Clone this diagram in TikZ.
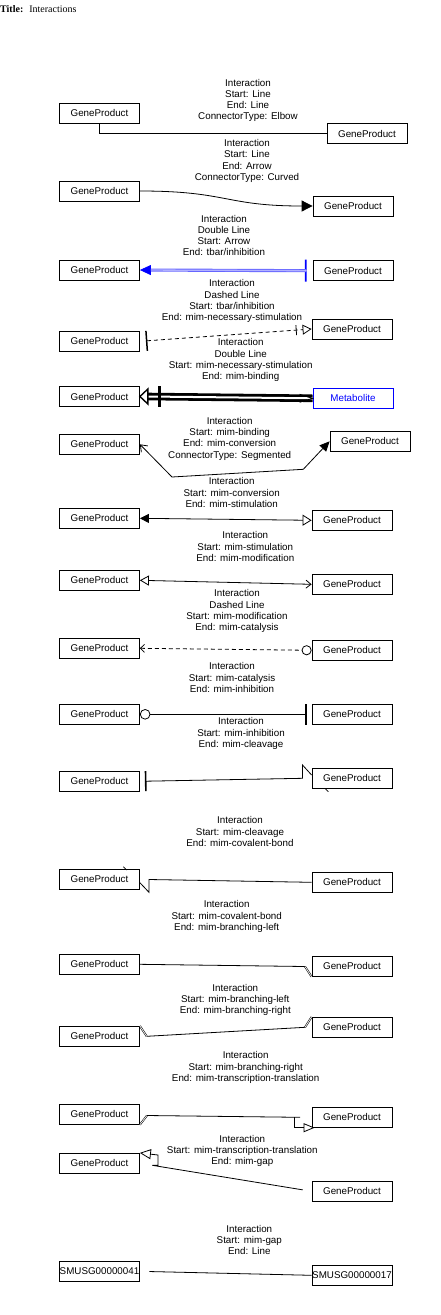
\documentclass[tikz,border=0pt]{standalone}
\usepackage{fontspec}
\setmainfont{Liberation Sans}
\newfontfamily\seriffont{Liberation Serif}
\usetikzlibrary{arrows.meta}

\tikzset{
  gene/.style={draw, line width=0.8pt, minimum width=80pt, minimum height=20pt, inner sep=0pt, font=\fontsize{9.8}{11.3}\selectfont},
  lbl/.style={align=center, inner sep=0pt, font=\fontsize{9.8}{11.3}\selectfont},
  conn/.style={line width=0.8pt},
  dashline/.style={dash pattern=on 4pt off 3pt},
  branch/.style={line width=0.55pt, double, double distance=0.7pt},
  bluedbl/.style={draw=blue!60, double=blue!30, line width=0.9pt, double distance=1.3pt},
  blkdbl/.style={line width=2.8pt, double=white, double distance=2pt}
}

\begin{document}
\begin{tikzpicture}[x=1pt,y=-1pt]
        \useasboundingbox (0,0) rectangle (440,1315);
        \node[anchor=west,inner sep=0pt,font=\seriffont\fontsize{10}{12}\selectfont] (title) at (0,9) {\textbf{Title:}\hspace{6pt}Interactions};

        % boxes
        \node[gene] (l1) at (99.5,113) {GeneProduct};
        \node[gene] (r1) at (367,133.7) {GeneProduct};
        \node[gene] (l2) at (99.5,191) {GeneProduct};
        \node[gene] (r2) at (353,206) {GeneProduct};
        \node[gene] (l3) at (99.5,270) {GeneProduct};
        \node[gene] (r3) at (353,270.7) {GeneProduct};
        \node[gene] (l4) at (99.5,341.3) {GeneProduct};
        \node[gene] (r4) at (352,329) {GeneProduct};
        \node[gene] (l5) at (99.5,396.5) {GeneProduct};
        \node[gene,draw=blue,text=blue] (m5) at (353,398.3) {Metabolite};
        \node[gene] (l6) at (99.5,444.3) {GeneProduct};
        \node[gene] (r6) at (370,441.3) {GeneProduct};
        \node[gene] (l7) at (99.5,518.3) {GeneProduct};
        \node[gene] (r7) at (352,520.3) {GeneProduct};
        \node[gene] (l8) at (99.5,580.3) {GeneProduct};
        \node[gene] (r8) at (352,584.3) {GeneProduct};
        \node[gene] (l9) at (99.5,648.3) {GeneProduct};
        \node[gene] (r9) at (352,650.3) {GeneProduct};
        \node[gene] (l10) at (99.5,714.3) {GeneProduct};
        \node[gene] (r10) at (352,714.3) {GeneProduct};
        \node[gene] (l11) at (99.5,781.3) {GeneProduct};
        \node[gene] (r11) at (352,778.3) {GeneProduct};
        \node[gene] (l12) at (99.5,879.3) {GeneProduct};
        \node[gene] (r12) at (352,882.3) {GeneProduct};
        \node[gene] (l13) at (99.5,964.3) {GeneProduct};
        \node[gene] (r13) at (352,966.3) {GeneProduct};
        \node[gene] (l14) at (99.5,1036.3) {GeneProduct};
        \node[gene] (r14) at (352,1027.3) {GeneProduct};
        \node[gene] (l15) at (99.5,1114.3) {GeneProduct};
        \node[gene] (r15) at (352,1117.3) {GeneProduct};
        \node[gene] (l16) at (99.5,1163.3) {GeneProduct};
        \node[gene] (r16) at (352,1191.3) {GeneProduct};
        \node[gene] (l17) at (99.5,1271.3) {SMUSG00000041};
        \node[gene] (r17) at (352,1275.3) {SMUSG00000017};

        % labels
        \node[lbl] (t1) at (248,100.5) {Interaction\\Start: Line\\End: Line\\ConnectorType: Elbow};
        \node[lbl] (t2) at (247,161) {Interaction\\Start: Line\\End: Arrow\\ConnectorType: Curved};
        \node[lbl] (t3) at (224,235.5) {Interaction\\Double Line\\Start: Arrow\\End: tbar/inhibition};
        \node[lbl] (t4) at (232,301.3) {Interaction\\Dashed Line\\Start: tbar/inhibition\\End: mim-necessary-stimulation};
        \node[lbl] (t5) at (240.7,360.3) {Interaction\\Double Line\\Start: mim-necessary-stimulation\\End: mim-binding};
        \node[lbl] (t6) at (229.7,438.7) {Interaction\\Start: mim-binding\\End: mim-conversion\\ConnectorType: Segmented};
        \node[lbl] (t7) at (231.7,492.7) {Interaction\\Start: mim-conversion\\End: mim-stimulation};
        \node[lbl] (t8) at (245.3,546.7) {Interaction\\Start: mim-stimulation\\End: mim-modification};
        \node[lbl] (t9) at (237,611.3) {Interaction\\Dashed Line\\Start: mim-modification\\End: mim-catalysis};
        \node[lbl] (t10) at (232,677.7) {Interaction\\Start: mim-catalysis\\End: mim-inhibition};
        \node[lbl] (t11) at (241,733.7) {Interaction\\Start: mim-inhibition\\End: mim-cleavage};
        \node[lbl] (t12) at (240,831.7) {Interaction\\Start: mim-cleavage\\End: mim-covalent-bond};
        \node[lbl] (t13) at (226.7,916.7) {Interaction\\Start: mim-covalent-bond\\End: mim-branching-left};
        \node[lbl] (t14) at (235.3,1000) {Interaction\\Start: mim-branching-left\\End: mim-branching-right};
        \node[lbl] (t15) at (245.7,1067.7) {Interaction\\Start: mim-branching-right\\End: mim-transcription-translation};
        \node[lbl] (t16) at (242.3,1150.8) {Interaction\\Start: mim-transcription-translation\\End: mim-gap};
        \node[lbl] (t17) at (249.3,1239.8) {Interaction\\Start: mim-gap\\End: Line};

        % connectors
        \draw[conn] (l1.south) |- (r1.west);
        \draw[conn,-{Triangle[length=11pt,width=11pt]}] (l2.east) to[out=0,in=180,looseness=1.3] (r2.west);
        \draw[blue,line width=0.8pt,{Triangle[length=11pt,width=10pt]}-{Bar[width=22pt,line width=1.8pt]},shorten >=6pt] (l3.east) -- (r3.west);
        \draw[bluedbl,shorten <=11pt,shorten >=6pt] (l3.east) -- (r3.west);
        \draw[conn,dashline,{Bar[width=20pt,line width=1.5pt]}-{Bar[width=10pt,sep=6pt] Triangle[open,length=9pt,width=10pt]},shorten <=6pt] (l4.east) -- (r4.west);
        \draw[blkdbl] ([xshift=8pt]l5.east) -- (m5.west);
        \draw[line width=1.4pt,fill=white] (l5.east) -- ([shift={(8pt,7.5pt)}]l5.east) -- ([shift={(8pt,-7.5pt)}]l5.east) -- cycle;
        \draw[line width=3pt] ([xshift=19.5pt]l5.north east) -- ([xshift=19.5pt]l5.south east);
        \draw[conn] ([shift={(-13pt,4pt)}]m5.west) -- (m5.west) -- ([shift={(-13pt,-4pt)}]m5.west);
        \draw[conn,{Straight Barb[length=6pt,width=9pt]}-{Triangle[length=10pt,width=9pt]}] (l6.east) -- (172,477) -- (303.3,469.3) -- (r6.west);
        \draw[conn,{Triangle[length=9pt,width=9pt]}-{Triangle[open,length=9pt,width=11pt]}] (l7.east) -- (r7.west);
        \draw[conn,{Triangle[open,length=9pt,width=10pt]}-{Straight Barb[length=5pt,width=8pt]}] (l8.east) -- (r8.west);
        \draw[conn,dashline,{Straight Barb[length=4pt,width=8pt]}-{Circle[open,length=10pt]}] (l9.east) -- (r9.west);
        \draw[conn,{Circle[open,length=10.5pt]}-{Rectangle[open,length=2pt,width=20pt]},shorten >=4.5pt] (l10.east) -- (r10.west);
        \draw[conn,{Rectangle[open,length=1.6pt,width=20pt]}-,shorten <=5pt] (l11.east) -- (302.5,778.3) -- (302.5,765) -- (r11.west |- 0,775);
        \draw[conn] (325,788.3) -- (328.3,791.7);
        \draw[conn] (r12.west) -- (149,879.5) -- (149,892.3) -- (l12.east |- 0,882.7);
        \draw[conn] (123.3,866.7) -- (126.7,870);
        \draw[conn] (l13.east) -- (305,966.5);
        \draw[branch] (305,966.5) -- (r13.south west);
        \draw[conn] (146.7,1036.3) -- (305,1027.3);
        \draw[branch] (l14.north east) -- (146.7,1036.3);
        \draw[branch] (305,1027.3) -- (r14.north west);
        \draw[branch] (l15.south east) -- (147,1115.5);
        \draw[conn] (147,1115.5) -- (300,1117.3);
        \draw[conn,-{Triangle[open,length=11pt,width=9pt]}] (294.5,1117.3) |- ([xshift=3pt]r15.south west);
        \draw[conn,-{Triangle[open,length=11pt,width=10pt]},shorten <=9pt] (r16.west) -- (152.3,1165.3) -| (158,1155) -- (l16.north east);
        \draw[conn,shorten <=9.5pt] (l17.east) -- (r17.west);
\end{tikzpicture}
\end{document}
